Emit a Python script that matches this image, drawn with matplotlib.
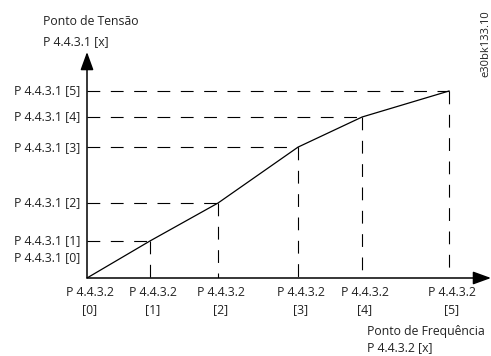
import matplotlib
matplotlib.use("Agg")
import matplotlib.pyplot as plt

# Points of the V/f curve (relative units)
freq_pts = [0, 17.4, 36.2, 58.3, 76.0, 100]
volt_pts = [0, 19.8, 40.1, 70.0, 86.1, 100]
idx_labels = ["[0]", "[1]", "[2]", "[3]", "[4]", "[5]"]
y_par = "P 4.4.3.1"
x_par = "P 4.4.3.2"

plt.rcParams['font.family'] = ['Open Sans', 'DejaVu Sans']
plt.rcParams['font.size'] = 8.8
plt.rcParams['text.color'] = '#222222'

W, H = 491, 356
fig = plt.figure(figsize=(W / 100, H / 100), dpi=100)

# origin at pixel (87, 278), point [5] at pixel (449, 91)
x0, y0 = 87, 278
sx, sy = (449 - x0) / 100.0, (y0 - 91) / 100.0
x_end, y_end = 491, 52
ax = fig.add_axes([x0 / W, (H - y0) / H, (x_end - x0) / W, (y0 - y_end) / H])
ax.set_xlim(0, (x_end - x0) / sx)
ax.set_ylim(0, (y0 - y_end) / sy)
ax.axis('off')

# axes with arrows
arr = dict(arrowstyle='-|>,head_length=0.55,head_width=0.2', mutation_scale=20,
           lw=1.1, color='black', shrinkA=0, shrinkB=0)
ax.annotate('', xy=(1, 0), xytext=(0, 0), xycoords='axes fraction', arrowprops=arr)
ax.annotate('', xy=(0, 1), xytext=(0, 0), xycoords='axes fraction', arrowprops=arr)

# dashed guide lines
dash = dict(color='black', lw=0.8, linestyle=(0, (11.5, 9.5)))
for f, v in zip(freq_pts[1:], volt_pts[1:]):
    ax.plot([0, f], [v, v], **dash)
    ax.plot([f, f], [v, 0], **dash)

# curve
ax.plot(freq_pts, volt_pts, color='black', lw=0.9)

# y tick labels
for i, v in enumerate(volt_pts):
    dy = 15 if i == 0 else 0
    ax.annotate(f"{y_par} {idx_labels[i]}", xy=(0, v), xytext=(-5, dy),
                textcoords='offset points', ha='right', va='center',
                annotation_clip=False)

# x tick labels
for i, f in enumerate(freq_pts):
    ax.annotate(f"{x_par}\n{idx_labels[i]}", xy=(f, 0), xytext=(2, -6),
                textcoords='offset points', ha='center', va='top',
                linespacing=1.35, annotation_clip=False)

def px(x, y):
    return x / W, 1 - y / H

fig.text(*px(43, 25), "Ponto de Tensão", ha='left', va='baseline')
fig.text(*px(43, 45), f"{y_par} [x]", ha='left', va='baseline')
fig.text(*px(367, 335), "Ponto de Frequência", ha='left', va='baseline')
fig.text(*px(367, 351), f"{x_par} [x]", ha='left', va='baseline')
fig.text(*px(486, 10), "e30bk133.10", rotation=90, ha='center', va='top', fontsize=8)

fig.savefig("out.png", dpi=100)
